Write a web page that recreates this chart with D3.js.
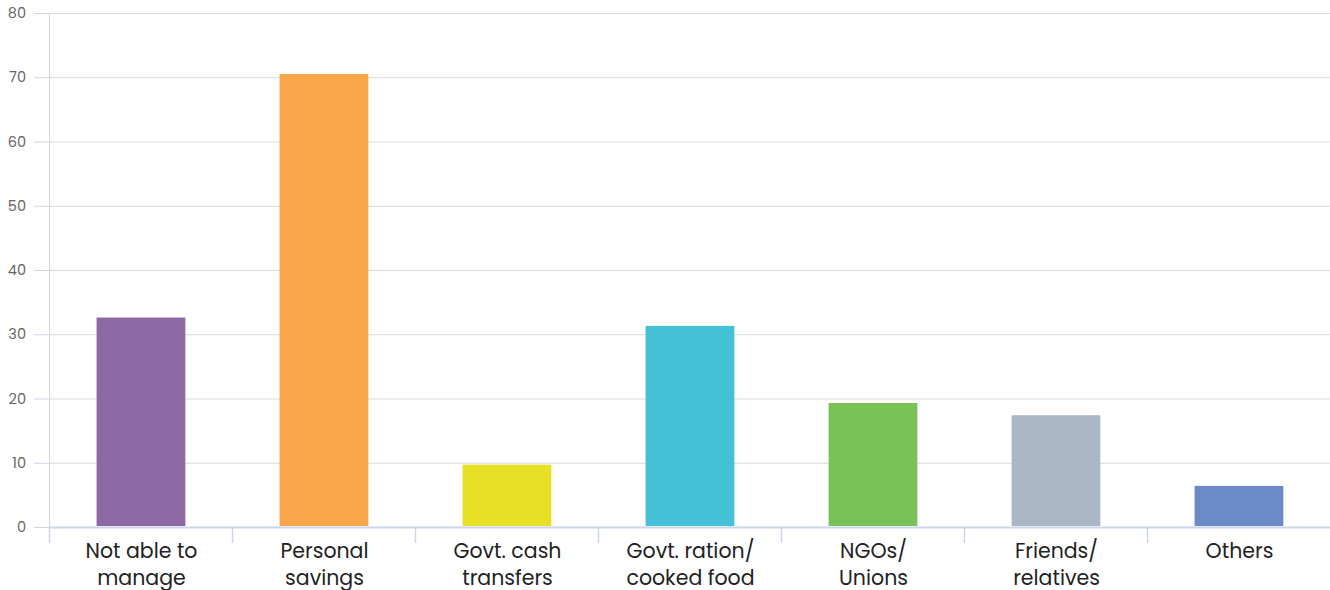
<!DOCTYPE html>
<html><head><meta charset="utf-8">
<script src="https://cdn.jsdelivr.net/npm/d3@7"></script>
<style>body{margin:0;background:#fff}svg{display:block}</style>
</head><body><svg id="c" width="1330" height="590"></svg>
<script>
const categories = [["Not able to","manage"],["Personal","savings"],["Govt. cash","transfers"],["Govt. ration/","cooked food"],["NGOs/","Unions"],["Friends/","relatives"],["Others"]];
const values = [32.6, 70.5, 9.7, 31.3, 19.3, 17.4, 6.4];
const colors = ["#8e68a5","#f9a64a","#e8df27","#44c1d6","#79c257","#aab8c5","#6c8ac5"];
const yTicks = [0,10,20,30,40,50,60,70,80];

(function(){
const svg = d3.select("#c");
const mLeft = 49, mRight = 1330, mTop = 13, mBottom = 527;
const x = d3.scaleBand().domain(d3.range(values.length)).range([mLeft, mRight]).paddingInner(0).paddingOuter(0);
const y = d3.scaleLinear().domain([0,80]).range([mBottom, mTop]);
const font = "Poppins, 'Noto Sans', sans-serif";

// gridlines
svg.append("g").selectAll("line").data(yTicks.filter(d=>d>0)).join("line")
  .attr("x1", mLeft).attr("x2", mRight).attr("y1", d=>y(d)+0.5).attr("y2", d=>y(d)+0.5)
  .attr("stroke", "#d9d9d9").attr("stroke-width", 1);

// y axis line
svg.append("line").attr("x1", mLeft+0.5).attr("x2", mLeft+0.5).attr("y1", mTop).attr("y2", 543)
  .attr("stroke", "#d6d6d6");

// y ticks & labels
const yg = svg.append("g");
yg.selectAll("line").data(yTicks).join("line")
  .attr("x1", 34).attr("x2", mLeft).attr("y1", d=>y(d)+0.5).attr("y2", d=>y(d)+0.5)
  .attr("stroke", "#ccd6eb");
yg.selectAll("text").data(yTicks).join("text")
  .attr("x", 26).attr("y", d=>y(d)+5).attr("text-anchor","end")
  .attr("font-family", font).attr("font-size", 14.5).attr("fill", "#666")
  .text(d=>d);

// bars
svg.append("g").selectAll("rect").data(values).join("rect")
  .attr("x", (d,i)=>x(i)+x.bandwidth()*0.26)
  .attr("width", x.bandwidth()*0.485)
  .attr("y", d=>y(d))
  .attr("height", d=>y(0)-1-y(d))
  .attr("fill", (d,i)=>colors[i]);

// x axis line
svg.append("line").attr("x1", mLeft).attr("x2", mRight).attr("y1", mBottom+0.5).attr("y2", mBottom+0.5)
  .attr("stroke", "#ccd6eb").attr("stroke-width", 2);
// category ticks
svg.append("g").selectAll("line").data(d3.range(values.length)).join("line")
  .attr("x1", i=>x(i)+0.5).attr("x2", i=>x(i)+0.5).attr("y1", mBottom).attr("y2", 543)
  .attr("stroke", "#ccd6eb").attr("stroke-width", 1.5);

// category labels
const lg = svg.append("g");
categories.forEach((lines,i)=>{
  const t = lg.append("text").attr("text-anchor","middle")
    .attr("font-family", font).attr("font-size", 20.5).attr("fill", "#222");
  lines.forEach((l,k)=>{
    t.append("tspan").attr("x", x(i)+x.bandwidth()/2 + 1).attr("y", 558 + k*26.5).text(l);
  });
});
})();
</script></body></html>
